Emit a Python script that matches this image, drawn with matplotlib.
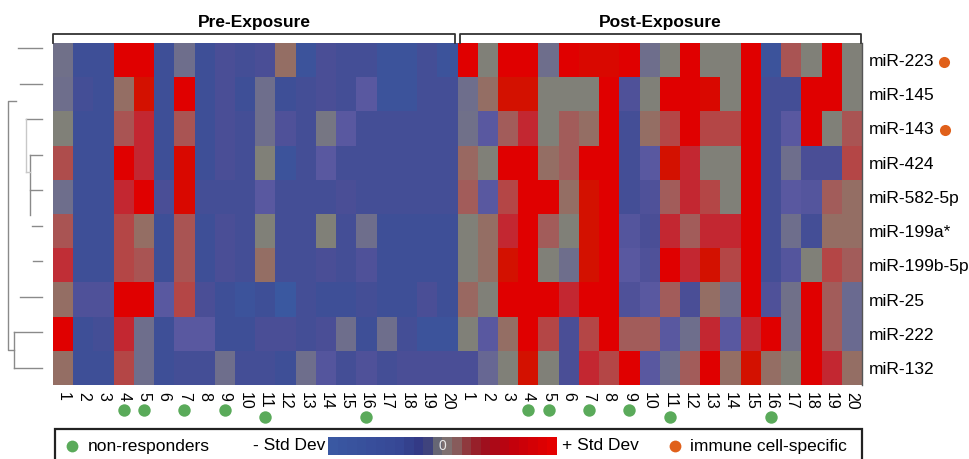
import numpy as np
import matplotlib
matplotlib.use("Agg")
import matplotlib.pyplot as plt
from matplotlib.colors import LinearSegmentedColormap
from matplotlib.transforms import blended_transform_factory
from matplotlib.patches import Rectangle

plt.rcParams['font.family'] = ['Liberation Sans', 'DejaVu Sans']

# ---------------- data ----------------
mirnas = ["miR-223", "miR-145", "miR-143", "miR-424", "miR-582-5p",
          "miR-199a*", "miR-199b-5p", "miR-25", "miR-222", "miR-132"]
subjects = [str(i) for i in range(1, 21)]
groups = ["Pre-Exposure", "Post-Exposure"]
non_responders = [4, 5, 7, 9, 11, 16]
immune_specific = ["miR-223", "miR-143"]

pre = [
    [-0.3, -0.9, -0.9, 1.0, 1.0, -0.9, -0.35, -0.9, -0.8, -0.85, -0.8, 0.3, -0.95, -0.8, -0.85, -0.85, -0.95, -0.95, -0.85, -0.95],
    [-0.35, -0.85, -0.9, 0.3, 0.95, -0.9, 1.0, -0.9, -0.8, -0.9, -0.35, -0.9, -0.85, -0.8, -0.85, -0.65, -0.95, -0.95, -0.85, -0.85],
    [0.0, -0.9, -0.9, 0.5, 0.8, -0.9, 0.5, -0.9, -0.8, -0.85, -0.35, -0.75, -0.85, -0.2, -0.65, -0.85, -0.85, -0.85, -0.85, -0.85],
    [0.55, -0.9, -0.9, 1.0, 0.8, -0.9, 0.97, -0.9, -0.8, -0.85, 0.0, -0.95, -0.85, -0.65, -0.85, -0.85, -0.85, -0.85, -0.85, -0.85],
    [-0.35, -0.9, -0.9, 0.8, 1.0, -0.8, 0.97, -0.85, -0.85, -0.85, -0.65, -0.85, -0.85, -0.85, -0.8, -0.85, -0.85, -0.85, -0.85, -0.85],
    [0.5, -0.9, -0.9, 0.6, 0.3, -0.9, 0.5, -0.9, -0.8, -0.85, 0.0, -0.85, -0.85, 0.0, -0.85, -0.35, -0.9, -0.9, -0.9, -0.9],
    [0.75, -0.9, -0.9, 0.6, 0.5, -0.9, 0.5, -0.9, -0.8, -0.85, 0.3, -0.85, -0.85, -0.8, -0.85, -0.75, -0.9, -0.9, -0.9, -0.9],
    [0.3, -0.75, -0.75, 1.0, 1.0, -0.65, 0.6, -0.8, -0.9, -0.95, -0.9, -1.0, -0.85, -0.9, -0.9, -0.85, -0.9, -0.9, -0.8, -0.9],
    [1.0, -0.9, -0.85, 0.8, -0.35, -0.9, -0.65, -0.65, -0.9, -0.9, -0.8, -0.8, -0.85, -0.8, -0.35, -0.9, -0.35, -0.85, -0.95, -0.95],
    [0.3, -0.9, -0.9, 0.6, -0.35, -0.9, -0.85, -0.85, -0.35, -0.85, -0.85, -0.9, -0.35, -0.7, -0.85, -0.75, -0.85, -0.8, -0.8, -0.8],
]
post = [
    [1.0, 0.0, 1.0, 1.0, -0.35, 1.0, 0.97, 0.97, 1.0, -0.35, 0.0, 1.0, 0.0, 0.0, 1.0, -0.95, 0.5, 0.0, 1.0, 0.0],
    [-0.35, 0.3, 0.95, 0.95, 0.0, 0.0, 0.0, 1.0, -0.75, 0.0, 1.0, 1.0, 0.97, 0.0, 1.0, -0.85, -0.85, 1.0, 1.0, 0.0],
    [-0.3, -0.65, 0.45, 0.8, 0.0, 0.45, 0.3, 1.0, -0.85, 0.3, 0.6, 1.0, 0.6, 0.6, 1.0, -0.85, -0.65, 1.0, 0.0, 0.5],
    [0.35, 0.0, 1.0, 1.0, 0.3, 0.45, 1.0, 1.0, -0.85, -0.65, 0.95, 0.8, 0.0, 0.0, 1.0, -0.85, -0.35, -0.8, -0.8, 0.6],
    [0.45, -0.65, 0.6, 1.0, 1.0, 0.3, 0.95, 1.0, -0.85, -0.75, 0.45, 0.8, 0.6, 0.0, 1.0, -0.85, -0.65, -0.7, 0.45, 0.3],
    [0.0, 0.3, 0.8, 1.0, 0.45, 0.0, 0.95, 1.0, -0.7, -0.8, 0.8, 0.45, 0.8, 0.8, 1.0, -0.85, -0.35, -0.85, 0.3, 0.3],
    [0.0, 0.3, 0.95, 1.0, 0.0, -0.35, 0.95, 1.0, -0.65, -0.75, 1.0, 0.8, 0.95, 0.6, 1.0, -0.85, -0.7, 0.0, 0.6, 0.45],
    [0.35, 0.0, 1.0, 1.0, 1.0, 0.8, 1.0, 1.0, -0.75, -0.65, 0.45, -0.8, 0.3, -0.35, 1.0, -0.75, -0.3, 1.0, 0.45, -0.4],
    [0.0, -0.65, 0.3, 1.0, 0.6, -0.8, 0.6, 1.0, 0.45, 0.45, -0.65, -0.35, 0.8, -0.65, 0.8, 1.0, -0.3, 1.0, 0.45, -0.4],
    [-0.8, -0.45, 0.0, 0.95, 0.0, -0.8, 0.8, 0.6, 1.0, -0.65, -0.35, 0.45, 1.0, 0.3, 0.95, 0.3, 0.0, 1.0, 0.8, 0.3],
]

# dendrogram: leaf stub start depth (px from left) and links (a, b, depth)
leaf_depth = [18, 20, 26, 30, 30, 32, 33, 20, 14, 14]

# ---------------- colours ----------------
anchors = [(-1.0, (58, 88, 160)), (-0.9, (62, 78, 150)), (-0.8, (74, 78, 150)),
           (-0.65, (90, 88, 160)), (-0.35, (110, 110, 140)), (0.0, (128, 128, 120)),
           (0.3, (148, 110, 100)), (0.45, (162, 92, 90)), (0.6, (180, 70, 70)),
           (0.8, (195, 40, 50)), (0.95, (210, 18, 0)), (1.0, (224, 0, 0))]
cmap = LinearSegmentedColormap.from_list(
    "heat", [((v + 1) / 2, tuple(c / 255 for c in rgb)) for v, rgb in anchors])
leg_anchors = [(0.0, (58, 88, 162)), (0.3, (55, 72, 150)), (0.42, (50, 55, 130)),
               (0.47, (95, 95, 115)), (0.5, (122, 122, 122)), (0.56, (135, 95, 95)),
               (0.63, (148, 40, 48)), (0.7, (160, 15, 30)), (0.82, (195, 0, 12)),
               (1.0, (228, 0, 0))]
leg_cmap = LinearSegmentedColormap.from_list(
    "leg", [(p, tuple(c / 255 for c in rgb)) for p, rgb in leg_anchors])

GREEN = "#5aaa5a"
ORANGE = "#e0601a"

W, H = 970, 459
fig = plt.figure(figsize=(W / 100, H / 100), dpi=100)


def fbox(x0, y0, x1, y1):
    return [x0 / W, 1 - y1 / H, (x1 - x0) / W, (y1 - y0) / H]


data = np.hstack([np.array(pre), np.array(post)])
nrow, ncol = data.shape

ax = fig.add_axes(fbox(53, 43, 862, 385))
ax.pcolormesh(np.arange(ncol + 1), np.arange(nrow + 1), data, cmap=cmap,
              vmin=-1, vmax=1, shading="flat")
ax.set_xlim(0, ncol)
ax.set_ylim(nrow, 0)
for s in ["top", "left", "bottom"]:
    ax.spines[s].set_visible(False)
ax.spines["right"].set_color("#555555")
ax.spines["right"].set_linewidth(1.0)

labels_x = subjects + subjects
ax.set_xticks(np.arange(ncol) + 0.5)
ax.set_xticklabels(labels_x, rotation=270, fontsize=11.5)
ax.tick_params(axis="x", length=0, pad=5)
ax.yaxis.tick_right()
ax.set_yticks(np.arange(nrow) + 0.5)
ax.set_yticklabels(mirnas, fontsize=12.5)
ax.tick_params(axis="y", length=0, pad=5)

# brackets + group titles
bt = blended_transform_factory(ax.transData, ax.transAxes)
for g, name in enumerate(groups):
    x0 = g * 20 + (0.0 if g == 0 else 0.1)
    x1 = (g + 1) * 20 - (0.1 if g == 0 else 0.05)
    ax.plot([x0, x0, x1, x1], [1.0, 1.026, 1.026, 1.0], transform=bt,
            color="#333333", lw=1.3, clip_on=False)
    ax.text((x0 + x1) / 2, 1.06, name, transform=bt, ha="center", va="center",
            fontsize=12.5, fontweight="bold")

# non-responder dots under tick labels
for g in range(2):
    for s in non_responders:
        y = -0.072 if s < 10 else -0.095
        ax.scatter([g * 20 + s - 0.5], [y], s=80, color=GREEN, transform=bt,
                   clip_on=False, zorder=5, linewidths=0)

# dendrogram
dax = fig.add_axes(fbox(0, 30.2, 53, 385.8))
dax.set_xlim(0, 53)
dax.set_ylim(nrow, 0)
dax.axis("off")
lc = "#8a8a8a"
ys = np.arange(nrow) + 0.5
for i, d in enumerate(leaf_depth):
    dax.plot([d, 42], [ys[i], ys[i]], color=lc, lw=1.0)
# cluster (4,5) at depth 30
m45 = (ys[3] + ys[4]) / 2
dax.plot([30, 30], [ys[3], ys[4] + 0.7], color=lc, lw=1.0)
# leaf 3 with (4,5) at depth 26
dax.plot([26, 26], [ys[2], m45], color="#c8c8c8", lw=1.0)
dax.plot([26, 30], [m45, m45], color="#c8c8c8", lw=1.0)
# cluster (9,10) at depth 14
m910 = (ys[8] + ys[9]) / 2
dax.plot([14, 14], [ys[8], ys[9]], color=lc, lw=1.0)
# root at depth 8
top_node = (ys[1] + ys[2]) / 2
dax.plot([16, 8, 8, 14], [top_node, top_node, m910, m910], color=lc, lw=1.0)

# orange dots next to immune-specific labels
fig.canvas.draw()
rend = fig.canvas.get_renderer()
for lab in ax.get_yticklabels():
    if lab.get_text() in immune_specific:
        bb = lab.get_window_extent(rend)
        xd, yd = (bb.x1 + 10), (bb.y0 + bb.y1) / 2
        fig.add_artist(plt.Line2D([xd / W], [yd / H], marker="o", markersize=8,
                                  color=ORANGE, markeredgewidth=0,
                                  transform=fig.transFigure))

# legend box
fig.add_artist(Rectangle((55 / W, 1 - 475 / H), (862 - 55) / W, (475 - 429) / H,
                         transform=fig.transFigure, fill=False, lw=1.6,
                         edgecolor="#222222"))
yc = 1 - 446 / H
fig.add_artist(plt.Line2D([72 / W], [yc], marker="o", markersize=8.5, color=GREEN,
                          markeredgewidth=0, transform=fig.transFigure))
fig.text(88 / W, yc, "non-responders", ha="left", va="center", fontsize=12.5)
fig.text(325 / W, yc, "- Std Dev", ha="right", va="center", fontsize=12.5)
fig.text(562 / W, yc, "+ Std Dev", ha="left", va="center", fontsize=12.5)
fig.add_artist(plt.Line2D([675 / W], [yc], marker="o", markersize=8.5, color=ORANGE,
                          markeredgewidth=0, transform=fig.transFigure))
fig.text(690 / W, yc, "immune cell-specific", ha="left", va="center", fontsize=12.5)

cax = fig.add_axes(fbox(328, 437, 557, 455))
cax.imshow(np.linspace(-1, 1, 24)[None, :], cmap=leg_cmap, vmin=-1, vmax=1,
           aspect="auto", interpolation="nearest", extent=(-1, 1, 0, 1))
cax.axis("off")
cax.text(0, 0.5, "0", ha="center", va="center", color="#e8e8e8", fontsize=10)

fig.savefig("out.png", dpi=100)
